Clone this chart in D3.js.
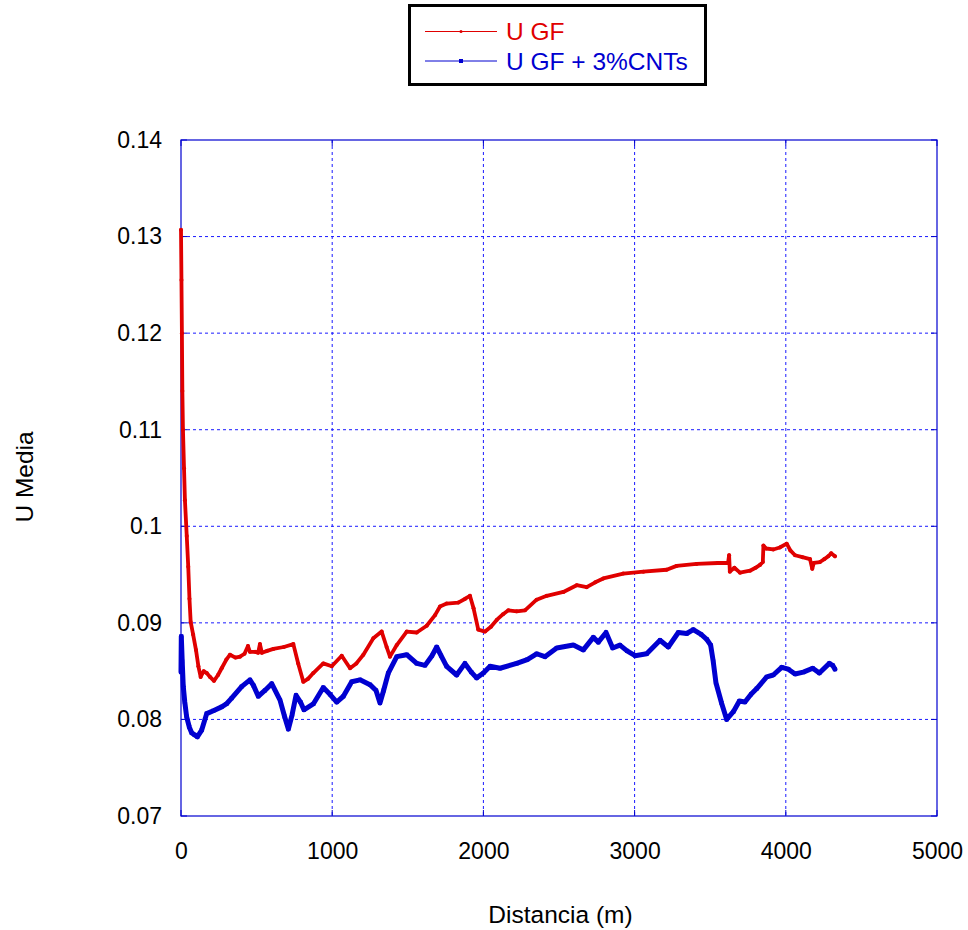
<!DOCTYPE html>
<html>
<head>
<meta charset="utf-8">
<script src="https://cdn.jsdelivr.net/npm/d3@7"></script>
<style>
  html, body { margin: 0; padding: 0; background: #fff; }
  svg { display: block; font-family: "Liberation Sans", Arial, sans-serif; }
</style>
</head>
<body>
<svg id="chart" width="968" height="930"></svg>
<script>
// Distance (m) and mean U for the plain GF sample
const gfDist = [0,3,6,9,13,20,26,38,48,56,64,80,99,115,130,150,170,192,218,245,269,300,324,360,390,420,443,456,490,510,522,535,570,611,680,743,775,809,840,875,941,997,1063,1118,1160,1206,1272,1327,1360,1382,1427,1493,1559,1625,1680,1713,1757,1834,1880,1911,1935,1966,2011,2050,2088,2130,2165,2220,2275,2352,2419,2529,2617,2683,2740,2793,2925,3058,3212,3278,3410,3550,3618,3625,3630,3660,3697,3763,3800,3829,3848,3852,3870,3917,3960,4006,4030,4061,4110,4160,4175,4185,4226,4255,4281,4300,4325];
const gfU = [0.1307,0.1255,0.1200,0.1140,0.1100,0.1060,0.1027,0.0990,0.0958,0.0925,0.0901,0.0888,0.0872,0.0855,0.0844,0.0850,0.0848,0.0844,0.0840,0.0846,0.0853,0.0862,0.0867,0.0864,0.0865,0.0868,0.0876,0.0870,0.0870,0.0869,0.0878,0.0869,0.0871,0.0873,0.0875,0.0878,0.0858,0.0839,0.0842,0.0848,0.0858,0.0855,0.0866,0.0853,0.0858,0.0867,0.0884,0.0891,0.0875,0.0865,0.0877,0.0891,0.0890,0.0897,0.0908,0.0917,0.0920,0.0921,0.0925,0.0928,0.0915,0.0893,0.0891,0.0896,0.0903,0.0909,0.0913,0.0912,0.0913,0.0924,0.0928,0.0932,0.0939,0.0937,0.0942,0.0946,0.0951,0.0953,0.0955,0.0959,0.0961,0.0962,0.0962,0.0970,0.0953,0.0957,0.0952,0.0954,0.0957,0.0960,0.0963,0.0980,0.0977,0.0976,0.0978,0.0982,0.0975,0.0970,0.0968,0.0966,0.0956,0.0962,0.0963,0.0966,0.0969,0.0972,0.0969];

// Distance (m) and mean U for GF + 3% CNTs
const cntDist = [0,2,8,15,25,37,55,71,90,108,137,170,214,269,300,335,401,456,480,511,555,600,655,685,710,735,761,790,813,875,941,985,1030,1074,1129,1184,1250,1290,1316,1340,1371,1427,1493,1559,1614,1660,1691,1720,1757,1823,1878,1920,1955,2000,2044,2110,2220,2290,2352,2407,2485,2595,2661,2727,2760,2811,2855,2903,2950,3003,3080,3168,3223,3289,3345,3388,3440,3477,3503,3520,3538,3575,3609,3653,3693,3730,3770,3808,3874,3917,3973,4017,4061,4116,4178,4222,4288,4310,4325];
const cntU = [0.0849,0.0886,0.0860,0.0834,0.0818,0.0803,0.0792,0.0786,0.0784,0.0782,0.0789,0.0806,0.0809,0.0813,0.0816,0.0822,0.0834,0.0841,0.0835,0.0824,0.0830,0.0837,0.0820,0.0803,0.0790,0.0805,0.0825,0.0818,0.0810,0.0816,0.0833,0.0826,0.0818,0.0824,0.0839,0.0841,0.0836,0.0830,0.0817,0.0830,0.0848,0.0865,0.0867,0.0858,0.0856,0.0866,0.0875,0.0866,0.0855,0.0846,0.0858,0.0849,0.0843,0.0848,0.0855,0.0853,0.0858,0.0862,0.0868,0.0865,0.0874,0.0877,0.0872,0.0885,0.0880,0.0890,0.0874,0.0877,0.0871,0.0866,0.0868,0.0882,0.0875,0.0890,0.0889,0.0893,0.0888,0.0883,0.0877,0.0860,0.0838,0.0817,0.0800,0.0808,0.0819,0.0818,0.0826,0.0832,0.0844,0.0846,0.0854,0.0852,0.0847,0.0849,0.0853,0.0848,0.0858,0.0856,0.0852];

const xTicks = [0, 1000, 2000, 3000, 4000, 5000];
const yTicks = [0.07, 0.08, 0.09, 0.1, 0.11, 0.12, 0.13, 0.14];
const seriesNames = ["U GF", "U GF + 3%CNTs"];
const seriesColors = ["#e00000", "#0000d0"];

const svg = d3.select("#chart");
const plotL = 181, plotR = 937, plotT = 140, plotB = 816;

const x = d3.scaleLinear().domain([0, 5000]).range([plotL, plotR]);
const y = d3.scaleLinear().domain([0.07, 0.14]).range([plotB, plotT]);

// grid
const grid = svg.append("g");
grid.selectAll(".gx").data(xTicks.slice(1, -1)).join("line")
  .attr("x1", d => x(d)).attr("x2", d => x(d))
  .attr("y1", plotT).attr("y2", plotB)
  .attr("stroke", "#1a1aff").attr("stroke-width", 1).attr("stroke-dasharray", "3,3");
grid.selectAll(".gy").data(yTicks.slice(1, -1)).join("line")
  .attr("x1", plotL).attr("x2", plotR)
  .attr("y1", d => y(d)).attr("y2", d => y(d))
  .attr("stroke", "#1a1aff").attr("stroke-width", 1).attr("stroke-dasharray", "3,3");

// axes (labels only; frame drawn separately)
const xAxis = svg.append("g").attr("transform", `translate(0,${plotB})`)
  .call(d3.axisBottom(x).tickValues(xTicks).tickFormat(d3.format("d")).tickSize(0).tickPadding(27));
const yAxis = svg.append("g").attr("transform", `translate(${plotL},0)`)
  .call(d3.axisLeft(y).tickValues(yTicks).tickFormat(d => String(+d.toFixed(2))).tickSize(0).tickPadding(19));
[xAxis, yAxis].forEach(a => {
  a.select(".domain").remove();
  a.selectAll("text").attr("font-size", 23).attr("fill", "#000")
    .attr("font-family", "'Liberation Sans', Arial, sans-serif");
});

// inward tick marks on all four sides
const tk = svg.append("g").attr("stroke", "#0000d0").attr("stroke-width", 1);
xTicks.forEach(d => {
  tk.append("line").attr("x1", x(d)).attr("x2", x(d)).attr("y1", plotB).attr("y2", plotB - 6);
  tk.append("line").attr("x1", x(d)).attr("x2", x(d)).attr("y1", plotT).attr("y2", plotT + 6);
});
yTicks.forEach(d => {
  tk.append("line").attr("x1", plotL).attr("x2", plotL + 6).attr("y1", y(d)).attr("y2", y(d));
  tk.append("line").attr("x1", plotR).attr("x2", plotR - 6).attr("y1", y(d)).attr("y2", y(d));
});

// frame
svg.append("rect").attr("x", plotL).attr("y", plotT)
  .attr("width", plotR - plotL).attr("height", plotB - plotT)
  .attr("fill", "none").attr("stroke", "#0000d0").attr("stroke-width", 1.2);

// axis titles
svg.append("text").attr("x", 560.5).attr("y", 923)
  .attr("text-anchor", "middle").attr("font-size", 24.5).text("Distancia (m)");
svg.append("text").attr("transform", "translate(33,477) rotate(-90)")
  .attr("text-anchor", "middle").attr("font-size", 24.5).text("U Media");

// series
const line = d3.line().x(d => x(d[0])).y(d => y(d[1]));
const gfData = gfDist.map((d, i) => [d, gfU[i]]);
const cntData = cntDist.map((d, i) => [d, cntU[i]]);

svg.append("path").datum(cntData).attr("d", line)
  .attr("fill", "none").attr("stroke", seriesColors[1]).attr("stroke-width", 5)
  .attr("stroke-linejoin", "round").attr("stroke-linecap", "round");
svg.append("g").selectAll("rect").data(cntData).join("rect")
  .attr("x", d => x(d[0]) - 2).attr("y", d => y(d[1]) - 2)
  .attr("width", 4).attr("height", 4).attr("fill", seriesColors[1]);

svg.append("path").datum(gfData).attr("d", line)
  .attr("fill", "none").attr("stroke", seriesColors[0]).attr("stroke-width", 3.8)
  .attr("stroke-linejoin", "round").attr("stroke-linecap", "round");
svg.append("g").selectAll("circle").data(gfData).join("circle")
  .attr("cx", d => x(d[0])).attr("cy", d => y(d[1])).attr("r", 2)
  .attr("fill", seriesColors[0]);

// legend
const lg = svg.append("g");
lg.append("rect").attr("x", 409.5).attr("y", 5.5).attr("width", 296).attr("height", 79)
  .attr("fill", "#fff").attr("stroke", "#000").attr("stroke-width", 3);
seriesNames.forEach((name, i) => {
  const ly = 31.5 + i * 29.5;
  lg.append("line").attr("x1", 425).attr("x2", 497).attr("y1", ly).attr("y2", ly)
    .attr("stroke", seriesColors[i]).attr("stroke-width", 1);
  if (i === 0) {
    lg.append("circle").attr("cx", 461).attr("cy", ly).attr("r", 1.5).attr("fill", seriesColors[i]);
  } else {
    lg.append("rect").attr("x", 459).attr("y", ly - 2).attr("width", 4).attr("height", 4).attr("fill", seriesColors[i]);
  }
  lg.append("text").attr("x", 506).attr("y", ly + 8.5).attr("font-size", 24.5)
    .attr("fill", seriesColors[i]).text(name);
});
</script>
</body>
</html>
